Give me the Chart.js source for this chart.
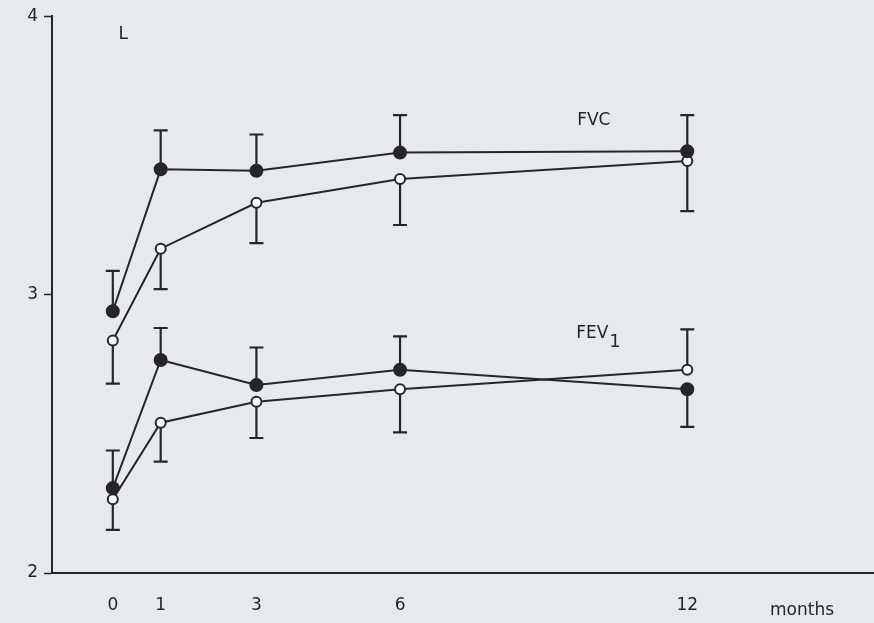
<!DOCTYPE html>
<html>
<head>
<meta charset="utf-8">
<script src="https://cdn.jsdelivr.net/npm/chart.js@4/dist/chart.umd.min.js"></script>
<style>
  html, body { margin: 0; padding: 0; background: #e6eaee; }
  #wrap { width: 874px; height: 623px; position: relative; }
</style>
</head>
<body>
<div id="wrap"><canvas id="c" width="874" height="623"></canvas></div>
<script>
// ---- data (litres) ----
const months = [0, 1, 3, 6, 12];
const xTickValues = [0, 1, 3, 6, 12];
const yTickValues = [2, 3, 4];

const fvcFilled    = [2.94, 3.45, 3.445, 3.51, 3.515];
const fvcFilledErr = [3.085, 3.59, 3.575, 3.645, 3.645];   // error-bar end
const fvcOpen      = [2.835, 3.165, 3.33, 3.415, 3.48];
const fvcOpenErr   = [2.68, 3.02, 3.185, 3.25, 3.30];

const fev1Filled    = [2.305, 2.765, 2.675, 2.73, 2.66];
const fev1FilledErr = [2.44, 2.88, 2.81, 2.85, 2.525];
const fev1Open      = [2.265, 2.54, 2.615, 2.66, 2.73];
const fev1OpenErr   = [2.155, 2.40, 2.485, 2.505, 2.875];

const INK = '#26262a';
const FONT = '"DejaVu Sans", "Liberation Sans", sans-serif';

function pts(vals) { return months.map((m, i) => ({ x: m, y: vals[i] })); }

function ds(vals, err, filled) {
  return {
    data: pts(vals),
    errEnd: err,
    borderColor: INK,
    borderWidth: 2,
    pointRadius: filled ? 6 : 5,
    pointBackgroundColor: filled ? INK : '#ffffff',
    pointBorderColor: INK,
    pointBorderWidth: 2,
    tension: 0,
    fill: false
  };
}

const errorBars = {
  id: 'errorBars',
  beforeDatasetsDraw(chart) {
    const ctx = chart.ctx, xs = chart.scales.x, ys = chart.scales.y;
    ctx.save();
    ctx.strokeStyle = INK;
    ctx.lineWidth = 2.2;
    chart.data.datasets.forEach(d => {
      d.data.forEach((p, i) => {
        const px = xs.getPixelForValue(p.x);
        const y0 = ys.getPixelForValue(p.y);
        const y1 = ys.getPixelForValue(d.errEnd[i]);
        ctx.beginPath();
        ctx.moveTo(px, y0); ctx.lineTo(px, y1);
        ctx.moveTo(px - 7, y1); ctx.lineTo(px + 7, y1);
        ctx.stroke();
      });
    });
    ctx.restore();
  }
};

const labels = {
  id: 'labels',
  afterDraw(chart) {
    const ctx = chart.ctx, xs = chart.scales.x, ys = chart.scales.y;
    ctx.save();
    ctx.fillStyle = INK;
    ctx.textBaseline = 'middle';
    ctx.textAlign = 'left';
    ctx.font = '17px ' + FONT;
    ctx.fillText('L', xs.getPixelForValue(0.12), ys.getPixelForValue(3.935));
    ctx.fillText('FVC', xs.getPixelForValue(9.7), ys.getPixelForValue(3.625));
    const fx = xs.getPixelForValue(9.68), fy = ys.getPixelForValue(2.86);
    ctx.fillText('FEV', fx, fy);
    const w = ctx.measureText('FEV').width;
    ctx.font = '18px ' + FONT;
    ctx.fillText('1', fx + w + 1, fy + 9);
    ctx.font = '17px ' + FONT;
    ctx.textAlign = 'center';
    ctx.fillText('months', 802, chart.chartArea.bottom + 38);
    ctx.restore();
  }
};

new Chart(document.getElementById('c'), {
  type: 'line',
  data: {
    datasets: [
      ds(fvcFilled, fvcFilledErr, true),
      ds(fvcOpen, fvcOpenErr, false),
      ds(fev1Filled, fev1FilledErr, true),
      ds(fev1Open, fev1OpenErr, false)
    ]
  },
  options: {
    responsive: false,
    animation: false,
    layout: { autoPadding: false, padding: { top: 14, left: 0, right: 0, bottom: 0 } },
    plugins: { legend: { display: false }, tooltip: { enabled: false } },
    scales: {
      x: {
        type: 'linear',
        min: -1.27,
        max: 15.9,
        afterBuildTicks(s) { s.ticks = xTickValues.map(v => ({ value: v })); },
        afterFit(s) { s.height = 50; },
        grid: { display: true, drawOnChartArea: false, drawTicks: false },
        border: { display: true, color: INK, width: 2 },
        ticks: { color: INK, font: { size: 17, family: FONT }, padding: 22, maxRotation: 0, autoSkip: false }
      },
      y: {
        min: 2,
        max: 4,
        afterBuildTicks(s) { s.ticks = yTickValues.map(v => ({ value: v })); },
        afterFit(s) { s.width = 52; },
        grid: { display: true, drawOnChartArea: false, drawTicks: true, tickLength: 8, color: INK, tickWidth: 1.5 },
        border: { display: true, color: INK, width: 2 },
        ticks: { color: INK, font: { size: 17, family: FONT }, padding: 6 }
      }
    }
  },
  plugins: [errorBars, labels]
});
</script>
</body>
</html>
